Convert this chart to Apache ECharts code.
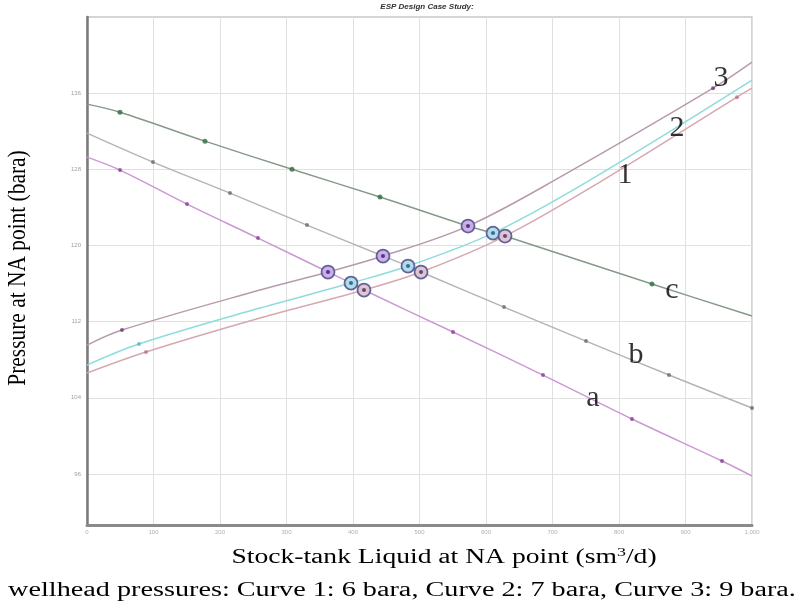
<!DOCTYPE html>
<html><head><meta charset="utf-8">
<script src="https://cdn.jsdelivr.net/npm/echarts@6/dist/echarts.min.js"></script>
<style>html,body{margin:0;padding:0;background:#fff}#c{width:803px;height:608px}</style>
</head><body><div id="c"></div>
<script>
// ---- data ----
const xTicks = [0,100,200,300,400,500,600,700,800,900,1000];
const yTicks = [96,104,112,120,128,136];

// system curves (pressure vs rate)
const curveA = [[0,129.28],[49.6,127.92],[150.4,124.35],[257.1,120.78],[362.4,117.21],[397.0,116.05],[416.5,115.32],[550.4,110.91],[685.7,106.39],[819.5,101.77],[954.9,97.36],[1000,95.79]];
const dotsA  = [[49.6,127.92],[150.4,124.35],[257.1,120.78],[550.4,110.91],[685.7,106.39],[819.5,101.77],[954.9,97.36]];
const curveB = [[0,131.8],[99.2,128.76],[215.0,125.5],[330.8,122.14],[445.1,118.89],[482.7,117.84],[502.3,117.21],[627.1,113.53],[750.4,109.96],[875.2,106.39],[1000,102.93]];
const dotsB  = [[99.2,128.76],[215.0,125.5],[330.8,122.14],[627.1,113.53],[750.4,109.96],[875.2,106.39],[1000,102.93]];
const curveC = [[0,134.85],[49.6,134.0],[177.4,130.96],[308.3,128.0],[440.6,125.1],[572.9,122.04],[610.5,121.3],[628.6,120.99],[849.6,115.95],[1000,112.6]];
const dotsC  = [[49.6,134.0],[177.4,130.96],[308.3,128.0],[440.6,125.1],[849.6,115.95]];

// pump curves (wellhead pressure 6 / 7 / 9 bara)
const curve1 = [[0,106.6],[88.7,108.81],[260.2,112.38],[416.5,115.32],[502.3,117.21],[628.6,120.99],[776.1,126.87],[977.4,135.58],[1000,136.52]];
const dots1  = [[88.7,108.81],[977.4,135.58]];
const curve2 = [[0,107.44],[78.2,109.65],[260.2,113.43],[397.0,116.05],[482.7,117.84],[610.5,121.3],[756.4,126.87],[1000,137.36]];
const dots2  = [[78.2,109.65]];
const curve3 = [[0,109.54],[52.6,111.12],[260.2,115.32],[362.4,117.21],[445.1,118.89],[572.9,122.04],[711.3,127.18],[941.4,136.52],[1000,139.25]];
const dots3  = [[52.6,111.12],[941.4,136.52]];

// operating points (intersections)
const ops1 = [[416.5,115.32],[502.3,117.21],[628.6,120.99]];
const ops2 = [[397.0,116.05],[482.7,117.84],[610.5,121.3]];
const ops3 = [[362.4,117.21],[445.1,118.89],[572.9,122.04]];

// curve labels
const curveLabels = [
  {name:'3', value:[953.4,137.57]},
  {name:'2', value:[887.2,132.33]},
  {name:'1', value:[809.0,127.39]},
  {name:'c', value:[879.7,115.32]},
  {name:'b', value:[825.6,108.49]},
  {name:'a', value:[760.9,103.98]}
];

const titleText = 'ESP Design Case Study:';
const yName = 'Pressure at NA point (bara)';
const xName = 'Stock-tank Liquid at NA point (sm{s|3}/d)';
const caption = 'wellhead pressures: Curve 1: 6 bara, Curve 2: 7 bara, Curve 3: 9 bara.';

// ---- chart ----
const chart = echarts.init(document.getElementById('c'), null, {renderer:'canvas'});

function lineS(data, color, w){
  return {type:'line', data, smooth:0.35, symbol:'none', lineStyle:{color, width:w||1.5}, z:2, silent:true};
}
function dotS(data, color, size, z){
  return {type:'scatter', data, symbol:'circle', symbolSize:size||4, itemStyle:{color}, z:z||3, silent:true};
}
function ringS(data, fill){
  return {type:'scatter', data, symbol:'circle', symbolSize:13, itemStyle:{color:fill, borderColor:'#55558c', borderWidth:1.8, opacity:0.9}, z:4, silent:true};
}

const option = {
  animation:false,
  backgroundColor:'#fff',
  grid:{left:87, right:51, top:17, bottom:83, show:true, borderColor:'#c8c8c8', borderWidth:1.5, backgroundColor:'transparent'},
  xAxis:{type:'value', min:0, max:1000, interval:100,
    axisLine:{show:true, onZero:false, lineStyle:{color:'#8a8a8a', width:3}},
    axisTick:{show:false},
    splitLine:{show:true, lineStyle:{color:'#e0e0e0', width:1}},
    axisLabel:{fontSize:6, color:'#b0b0b0', margin:4, customValues:xTicks}
  },
  yAxis:{type:'value', min:90.64, max:144,
    axisLine:{show:true, onZero:false, lineStyle:{color:'#7a7a7a', width:2.5}},
    axisTick:{show:false, customValues:yTicks},
    splitLine:{show:true, lineStyle:{color:'#e0e0e0', width:1}},
    axisLabel:{fontSize:6, color:'#a0a0a0', margin:6, customValues:yTicks}
  },
  series:[
    lineS(curveC,'#859a88'), dotS(dotsC,'#2e6e44',5),
    lineS(curveB,'#b4b4b4'), dotS(dotsB,'#6a6a6a',4),
    lineS(curveA,'#cc98d4'), dotS(dotsA,'#8a3a9a',4),
    lineS(curve3,'#b89aae'), dotS(dots3,'#6a3a7a',4),
    lineS(curve2,'#8edcdc'), dotS(dots2,'#5ab8c8',4),
    lineS(curve1,'#d6a8b0'), dotS(dots1,'#c07080',4),
    ringS(ops3,'#c7a8ec'), dotS(ops3,'#3a1a5a',4,5),
    ringS(ops2,'#a6dcec'), dotS(ops2,'#2a4a7a',4,5),
    ringS(ops1,'#dcc0d4'), dotS(ops1,'#4a2a4a',4,5),
    {type:'scatter', data:curveLabels, symbolSize:0, z:6, silent:true,
     label:{show:true, position:'inside', formatter:p=>p.name, fontFamily:'Liberation Serif', fontSize:30, color:'#000'}}
  ],
  graphic:[
    {type:'text', x:427, y:3, style:{text:titleText, font:'italic bold 8px Liberation Sans', fill:'#333', align:'center'}},
    {type:'text', x:18, y:268, rotation:Math.PI/2, scaleX:1.07, scaleY:1.3,
      style:{text:yName, font:'20px Liberation Serif', fill:'#000', align:'center', verticalAlign:'middle'}},
    {type:'text', x:444, y:558, scaleX:1.38, style:{text:xName, font:'20px Liberation Serif', fill:'#000', align:'center', verticalAlign:'middle',
      rich:{s:{fontSize:13, verticalAlign:'top', padding:[0,0,10,0], fontFamily:'Liberation Serif'}}}},
    {type:'text', x:402, y:591, scaleX:1.41, style:{text:caption, font:'20px Liberation Serif', fill:'#000', align:'center', verticalAlign:'middle'}}
  ]
};
chart.setOption(option);
</script></body></html>
